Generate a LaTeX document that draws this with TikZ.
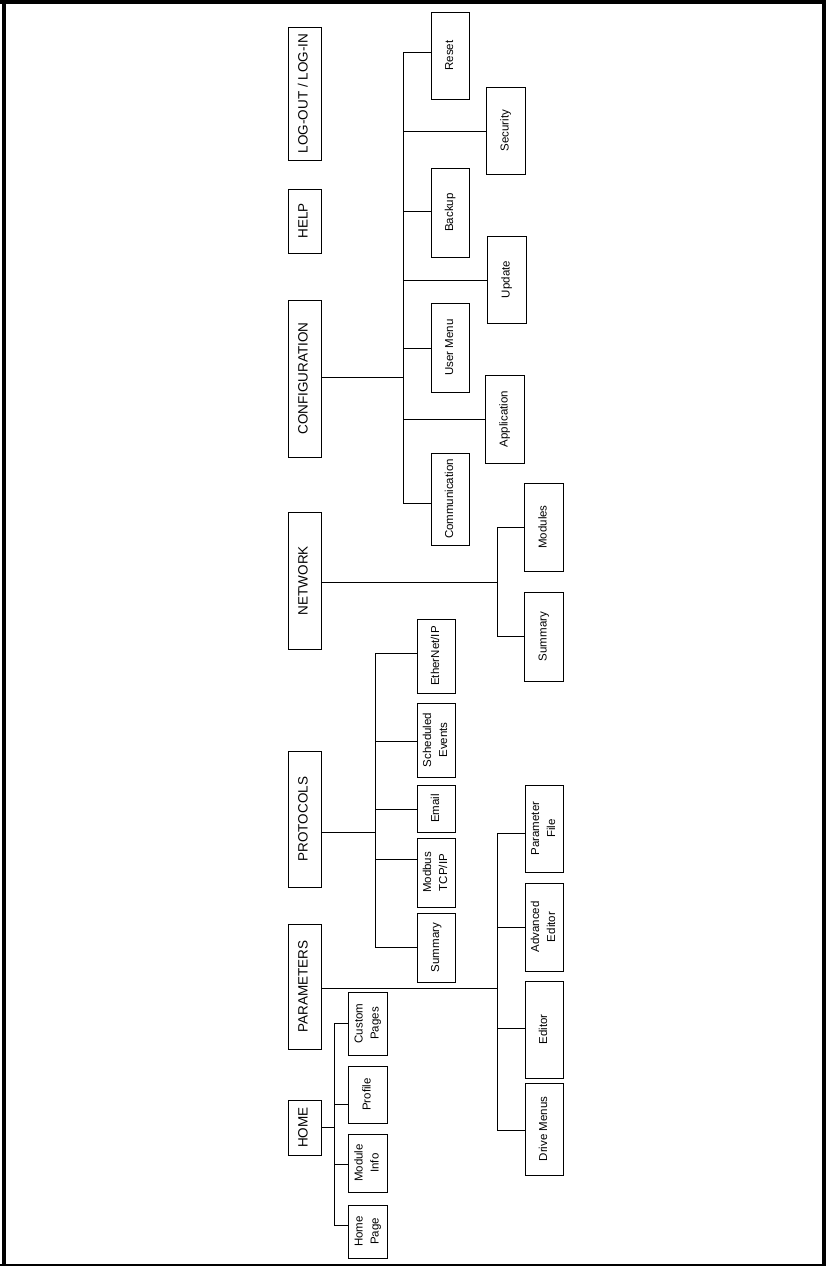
\documentclass[tikz,border=0pt]{standalone}
\usepackage{fontspec}
\setmainfont{Liberation Sans}
\begin{document}
\begin{tikzpicture}[x=1pt,y=-1pt,
  boxbase/.style={draw, line width=1pt, inner sep=0pt, align=center},
  topbox/.style={boxbase, font=\fontsize{13.5}{15}\selectfont},
  subbox/.style={boxbase, font=\fontsize{11.5}{16}\selectfont},
  conn/.style={line width=0.9pt}]
\useasboundingbox (0,0) rectangle (826,1266);
% frame
\draw[line width=4pt] (0,2) -- (826,2);
\draw[line width=4pt] (4,0) -- (4,1266);
\draw[line width=4pt] (823.5,0) -- (823.5,1266);
\draw[line width=1.2pt] (0,1265) -- (826,1265);
% box macro: style, name, x1, y1, x2, y2, text
\newcommand\mybx[7]{%
  \pgfmathsetmacro\bw{#5-#3}\pgfmathsetmacro\bh{#6-#4}%
  \node[#1, minimum width=\bw pt, minimum height=\bh pt] (#2) at ({(#3+#5)/2},{(#4+#6)/2})
    {\rotatebox{90}{\begin{tabular}{@{}c@{}}#7\end{tabular}}};}
% top level
\mybx{topbox}{home}{288}{1100}{321}{1155}{HOME}
\mybx{topbox}{params}{288}{924}{321}{1049}{PARAMETERS}
\mybx{topbox}{protocols}{288}{751}{321}{887}{PROTOCOLS}
\mybx{topbox}{network}{288}{512}{321}{649}{NETWORK}
\mybx{topbox}{config}{288}{300}{321}{457}{CONFIGURATION}
\mybx{topbox}{help}{288}{189}{321}{253}{HELP}
\mybx{topbox}{logout}{288}{27}{321}{160}{LOG-OUT / LOG-IN}
% home children
\mybx{subbox}{homepage}{348}{1205}{387}{1258}{Home\\Page}
\mybx{subbox}{moduleinfo}{348}{1134}{387}{1192}{Module\\Info}
\mybx{subbox}{profile}{348}{1066}{387}{1123}{Profile}
\mybx{subbox}{custompages}{348}{992}{387}{1055}{Custom\\Pages}
% parameters children
\mybx{subbox}{drivemenus}{525}{1083}{563}{1175}{Drive Menus}
\mybx{subbox}{editor}{525}{981}{563}{1078}{Editor}
\mybx{subbox}{advanced}{525}{883}{563}{971}{Advanced\\Editor}
\mybx{subbox}{paramfile}{525}{785}{563}{872}{Parameter\\File}
% protocols children
\mybx{subbox}{psummary}{417}{913}{455}{982}{Summary}
\mybx{subbox}{modbus}{417}{838}{455}{907}{Modbus\\TCP/IP}
\mybx{subbox}{email}{417}{785}{455}{832}{Email}
\mybx{subbox}{sched}{417}{703}{455}{777}{Scheduled\\Events}
\mybx{subbox}{ethernet}{417}{619}{455}{693}{EtherNet/IP}
% network children
\mybx{subbox}{nsummary}{524}{592}{563}{681}{Summary}
\mybx{subbox}{modules}{524}{483}{563}{571}{Modules}
% configuration children
\mybx{subbox}{communication}{431}{453}{469}{545}{Communication}
\mybx{subbox}{application}{485}{375}{524}{463}{Application}
\mybx{subbox}{usermenu}{431}{303}{469}{392}{User Menu}
\mybx{subbox}{update}{487}{236}{526}{323}{Update}
\mybx{subbox}{backup}{431}{168}{469}{257}{Backup}
\mybx{subbox}{security}{486}{87}{525}{174}{Security}
\mybx{subbox}{reset}{431}{12}{469}{99}{Reset}
% junction coordinates
\coordinate (hm) at (334,1127);
\coordinate (h1) at (334,1225);
\coordinate (h2) at (334,1164);
\coordinate (h3) at (334,1104);
\coordinate (h4) at (334,1023);
\coordinate (pm) at (497,988);
\coordinate (p1) at (497,1130);
\coordinate (p2) at (497,1028);
\coordinate (p3) at (497,927);
\coordinate (p4) at (497,833);
\coordinate (rm) at (375,832);
\coordinate (r1) at (375,947);
\coordinate (r2) at (375,859);
\coordinate (r3) at (375,809);
\coordinate (r4) at (375,741);
\coordinate (r5) at (375,653);
\coordinate (nm) at (497,582);
\coordinate (n1) at (497,636);
\coordinate (n2) at (497,527);
\coordinate (cm) at (403,377);
\coordinate (c1) at (403,503);
\coordinate (c2) at (403,419);
\coordinate (c3) at (403,348);
\coordinate (c4) at (403,280);
\coordinate (c5) at (403,211);
\coordinate (c6) at (403,131);
\coordinate (c7) at (403,52);
% home connectors
\draw[conn] (hm -| home.east) -- (hm);
\draw[conn] (h4) -- (h1);
\draw[conn] (h1) -- (h1 -| homepage.west);
\draw[conn] (h2) -- (h2 -| moduleinfo.west);
\draw[conn] (h3) -- (h3 -| profile.west);
\draw[conn] (h4) -- (h4 -| custompages.west);
% parameters connectors
\draw[conn] (pm -| params.east) -- (pm);
\draw[conn] (p4) -- (p1);
\draw[conn] (p1) -- (p1 -| drivemenus.west);
\draw[conn] (p2) -- (p2 -| editor.west);
\draw[conn] (p3) -- (p3 -| advanced.west);
\draw[conn] (p4) -- (p4 -| paramfile.west);
% protocols connectors
\draw[conn] (rm -| protocols.east) -- (rm);
\draw[conn] (r5) -- (r1);
\draw[conn] (r1) -- (r1 -| psummary.west);
\draw[conn] (r2) -- (r2 -| modbus.west);
\draw[conn] (r3) -- (r3 -| email.west);
\draw[conn] (r4) -- (r4 -| sched.west);
\draw[conn] (r5) -- (r5 -| ethernet.west);
% network connectors
\draw[conn] (nm -| network.east) -- (nm);
\draw[conn] (n2) -- (n1);
\draw[conn] (n1) -- (n1 -| nsummary.west);
\draw[conn] (n2) -- (n2 -| modules.west);
% configuration connectors
\draw[conn] (cm -| config.east) -- (cm);
\draw[conn] (c7) -- (c1);
\draw[conn] (c1) -- (c1 -| communication.west);
\draw[conn] (c2) -- (c2 -| application.west);
\draw[conn] (c3) -- (c3 -| usermenu.west);
\draw[conn] (c4) -- (c4 -| update.west);
\draw[conn] (c5) -- (c5 -| backup.west);
\draw[conn] (c6) -- (c6 -| security.west);
\draw[conn] (c7) -- (c7 -| reset.west);
\end{tikzpicture}
\end{document}
